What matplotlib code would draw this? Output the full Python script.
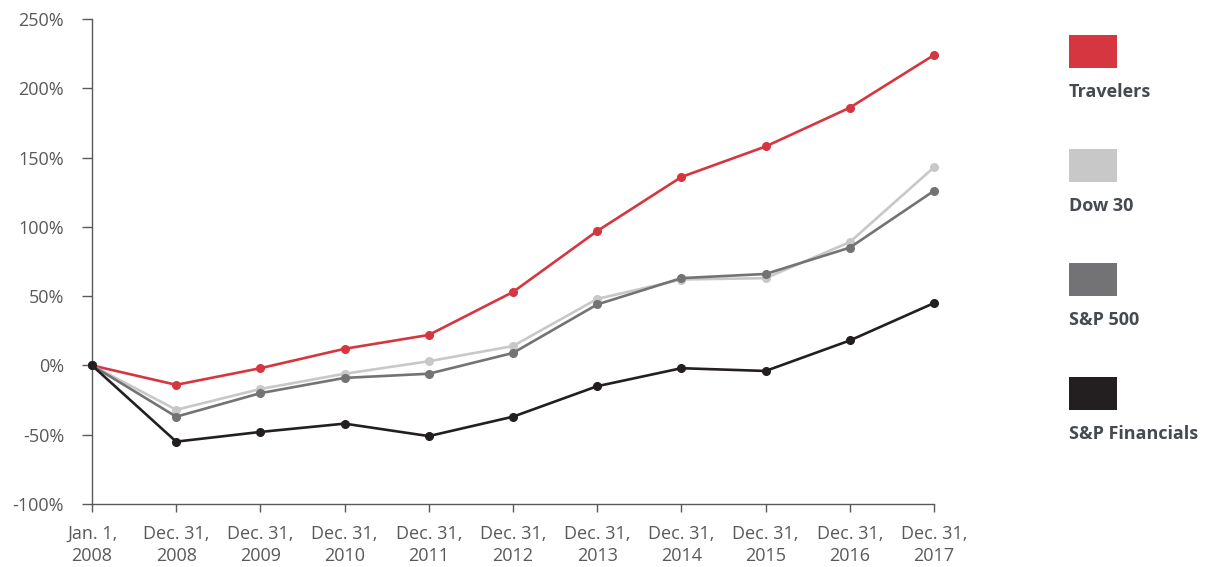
import matplotlib
matplotlib.use("Agg")
from matplotlib import pyplot as plt
from matplotlib.patches import Rectangle
from matplotlib.ticker import FuncFormatter

periods = ["Jan. 1,\n2008", "Dec. 31,\n2008", "Dec. 31,\n2009", "Dec. 31,\n2010",
           "Dec. 31,\n2011", "Dec. 31,\n2012", "Dec. 31,\n2013", "Dec. 31,\n2014",
           "Dec. 31,\n2015", "Dec. 31,\n2016", "Dec. 31,\n2017"]

travelers = [0, -14, -2, 12, 22, 53, 97, 136, 158, 186, 224]
dow_30 = [0, -32, -17, -6, 3, 14, 48, 62, 63, 89, 143]
sp_500 = [0, -37, -20, -9, -6, 9, 44, 63, 66, 85, 126]
sp_financials = [0, -55, -48, -42, -51, -37, -15, -2, -4, 18, 45]

series = [
    ("Travelers", travelers, "#d6363f"),
    ("Dow 30", dow_30, "#c9c8c9"),
    ("S&P 500", sp_500, "#737275"),
    ("S&P Financials", sp_financials, "#231f20"),
]

axis_color = "#58595b"
label_color = "#454a50"

plt.rcParams["font.family"] = ["Open Sans", "DejaVu Sans"]

fig = plt.figure(figsize=(12.09, 5.67), dpi=100)
ax = fig.add_axes([92 / 1209, 1 - 504 / 567, (934 - 92) / 1209, (504 - 19) / 567])

x = list(range(len(periods)))
for name, values, color in series:
    ax.plot(x, values, color=color, linewidth=1.9, marker="o", markersize=5.5,
            clip_on=False, zorder=3)

ax.set_xlim(0, len(periods) - 1)
ax.set_ylim(-100, 250)
ax.set_yticks(range(-100, 251, 50))
ax.yaxis.set_major_formatter(FuncFormatter(lambda v, p: f"{int(v)}%"))
ax.set_xticks(x)
ax.set_xticklabels(periods, linespacing=1.3)

for side in ["top", "right"]:
    ax.spines[side].set_visible(False)
for side in ["left", "bottom"]:
    ax.spines[side].set_color(axis_color)
    ax.spines[side].set_linewidth(1.0)

ax.tick_params(axis="y", length=7, width=1.0, color=axis_color, pad=13,
               labelsize=13, labelcolor=axis_color)
ax.tick_params(axis="x", length=6, width=1.0, color=axis_color, pad=9,
               labelsize=13, labelcolor=axis_color)

# legend: coloured squares with bold names below
for i, (name, values, color) in enumerate(series):
    top = 35 + i * 114
    fig.patches.append(Rectangle((1069 / 1209, 1 - (top + 33) / 567), 48 / 1209, 33 / 567,
                                 transform=fig.transFigure, facecolor=color,
                                 edgecolor="none"))
    fig.text(1069 / 1209, 1 - (top + 57) / 567, name, fontsize=13, fontweight="bold",
             color=label_color, ha="left", va="center")

fig.savefig("out.png", dpi=100)
